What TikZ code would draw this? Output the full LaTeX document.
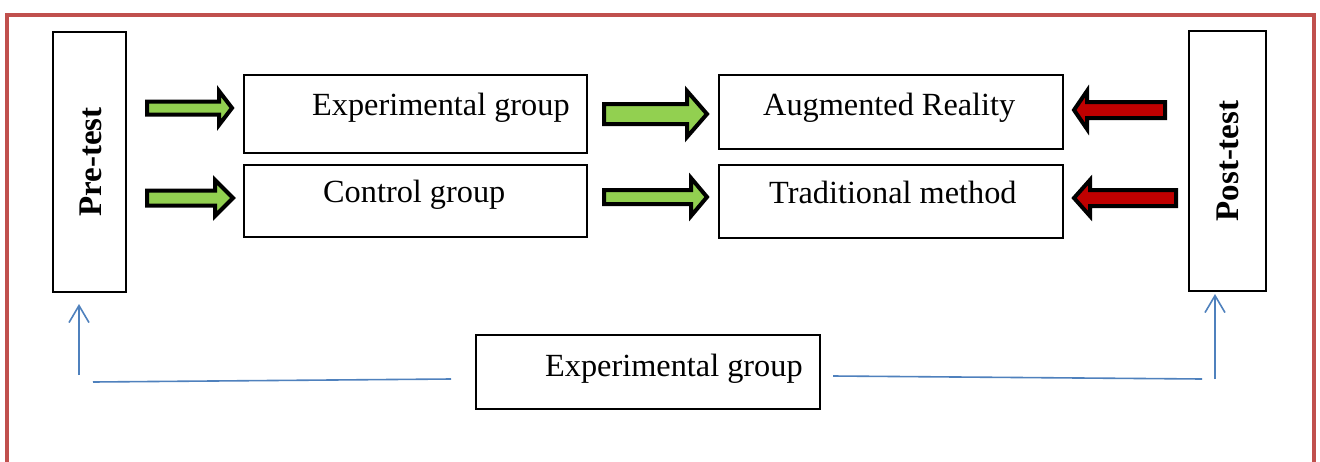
\documentclass[tikz,border=0pt]{standalone}
\usepackage{fontspec}
\setmainfont{Liberation Serif}
\usetikzlibrary{arrows.meta}
\definecolor{frameRed}{HTML}{C0504D}
\definecolor{arrowGreen}{HTML}{92D050}
\definecolor{arrowRed}{HTML}{C00000}
\definecolor{lineBlue}{HTML}{4F81BD}
% fill, tail x, head-base x, tip x, centre y, shaft half, head half
\newcommand{\blockarr}[7]{%
  \filldraw[blockarrow, fill=#1] (#2,#5-#6) -- (#3,#5-#6) -- (#3,#5-#7) -- (#4,#5)
    -- (#3,#5+#7) -- (#3,#5+#6) -- (#2,#5+#6) -- cycle;}
\tikzset{
  box/.style={draw=black, line width=2pt, rectangle, inner sep=0pt},
  lbl/.style={inner sep=0pt, anchor=base west, font=\fontsize{32.3}{38}\selectfont},
  vlbl/.style={inner sep=0pt, rotate=90, font=\fontsize{33}{38}\selectfont\bfseries},
  blockarrow/.style={draw=black, line width=4pt, line join=miter},
  blueline/.style={draw=lineBlue, line width=1.6pt},
  bluearrow/.style={blueline, -{Straight Barb[length=17pt,width=20pt,line width=1.6pt]}}
}
\begin{document}
\begin{tikzpicture}[x=1pt,y=-1pt]
\useasboundingbox (0,0) rectangle (1320,461);
\clip (0,0) rectangle (1320,461);
\fill[white] (0,0) rectangle (1320,461);
% frame
\draw[frameRed, line width=4pt] (6.5,480) -- (6.5,15) -- (1313.5,15) -- (1313.5,480);
% boxes
\node[box, minimum width=73pt, minimum height=260pt] (pre) at (89.5,162) {};
\node[box, minimum width=77pt, minimum height=260pt] (post) at (1227.5,161) {};
\node[box, minimum width=343pt, minimum height=78pt] (exp) at (415.5,114) {};
\node[box, minimum width=343pt, minimum height=72pt] (ctl) at (415.5,201) {};
\node[box, minimum width=344pt, minimum height=74pt] (ar) at (891,112) {};
\node[box, minimum width=344pt, minimum height=73pt] (trad) at (891,201.5) {};
\node[box, minimum width=344pt, minimum height=74pt] (bot) at (648,372) {};
% texts
\node[vlbl] (preT) at (91,162) {Pre-test};
\node[vlbl] (postT) at (1228,161) {Post-test};
\node[lbl] (expT) at (312,115) {Experimental group};
\node[lbl] (ctlT) at (323,202) {Control group};
\node[lbl] (arT) at (763,115) {Augmented Reality};
\node[lbl] (tradT) at (769,203) {Traditional method};
\node[lbl] (botT) at (545,376) {Experimental group};
% block arrows
\blockarr{arrowGreen}{147}{219}{232}{108}{6.5}{17}
\blockarr{arrowGreen}{147}{215}{233}{198}{7.5}{18}
\blockarr{arrowGreen}{604}{687}{707}{114}{10}{23}
\blockarr{arrowGreen}{604}{691}{707}{197}{7}{19}
\blockarr{arrowRed}{1165}{1087}{1074}{110}{8}{19}
\blockarr{arrowRed}{1176}{1090}{1074}{198}{8}{18}
% blue connectors
\coordinate (laB) at (79,375);
\coordinate (laT) at (79,304);
\coordinate (lh1) at (93,382);
\coordinate (lh2) at (451,379);
\coordinate (rh1) at (833,376);
\coordinate (rh2) at (1202,379);
\coordinate (raB) at (1215,379);
\coordinate (raT) at (1215,294);
\draw[bluearrow] (laB) -- (laT);
\draw[blueline] (lh1) -- (lh2);
\draw[blueline] (rh1) -- (rh2);
\draw[bluearrow] (raB) -- (raT);
\end{tikzpicture}
\end{document}
